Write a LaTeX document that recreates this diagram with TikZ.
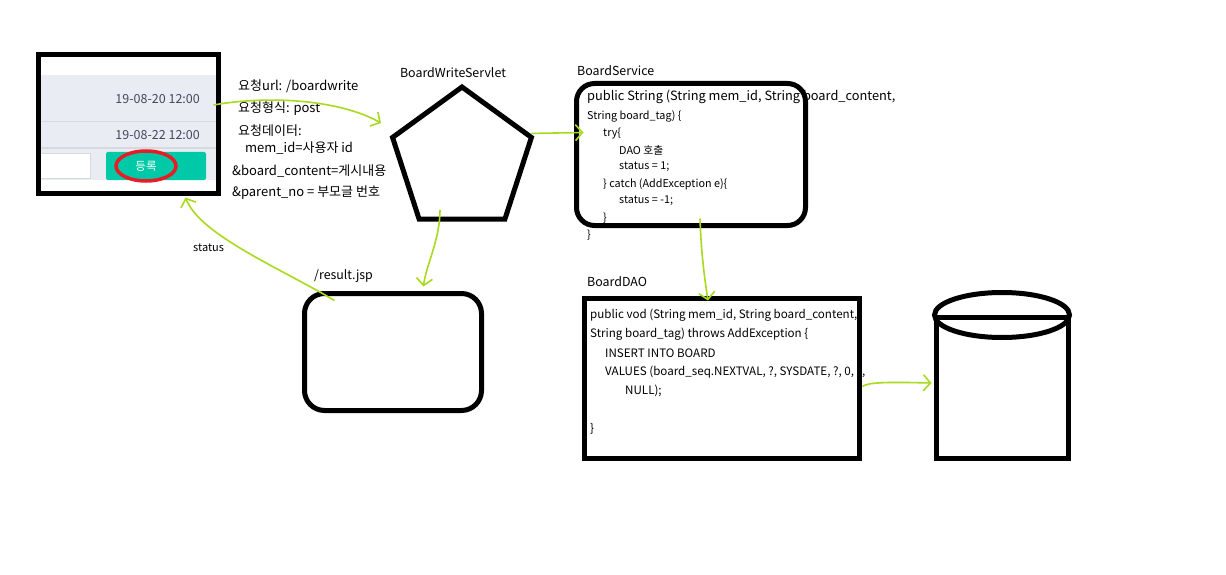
\documentclass[tikz,border=0pt]{standalone}
\usepackage{fontspec}
\setmainfont{Noto Sans CJK KR}
\usetikzlibrary{shapes.geometric,arrows.meta,calc}
\definecolor{hand}{RGB}{168,218,30}
\definecolor{rowgray}{RGB}{233,237,243}
\definecolor{linegray}{RGB}{214,217,222}
\definecolor{teal}{RGB}{0,201,167}
\definecolor{ring}{RGB}{232,28,36}
\definecolor{datecol}{RGB}{70,70,90}
\tikzset{
  thickbox/.style={draw=black,line width=5pt,outer sep=0pt,inner sep=0pt},
  txt/.style={anchor=west,inner sep=0pt,font=\fontsize{12.4}{14}\selectfont},
  reqtxt/.style={anchor=west,inner sep=0pt,font=\fontsize{13}{15}\selectfont},
  codetxt/.style={anchor=west,inner sep=0pt,font=\fontsize{10.8}{12}\selectfont},
  codebig/.style={anchor=west,inner sep=0pt,font=\fontsize{12.8}{14}\selectfont},
  daotxt/.style={anchor=west,inner sep=0pt,font=\fontsize{11.6}{13}\selectfont},
  handarrow/.style={draw=hand,line width=1.6pt,-{Straight Barb[length=7pt,width=16pt,line width=1.6pt]}},
}
\begin{document}
\begin{tikzpicture}[x=1pt,y=-1pt]
\useasboundingbox (0,0) rectangle (1226,575);
\fill[white] (0,0) rectangle (1226,575);

% ---- left UI screenshot ----
\fill[rowgray] (40,75) rectangle (217,180);
\draw[linegray,line width=0.8pt] (40,121) -- (217,121);
\draw[linegray,line width=2.5pt] (40,148) -- (217,148);
\node[draw=linegray,fill=white,line width=0.8pt,minimum width=50,minimum height=25,anchor=north west,inner sep=0pt,outer sep=0pt] (inp) at (40,153) {};
\node[fill=teal,rounded corners=2pt,minimum width=100,minimum height=28,anchor=north west,inner sep=0pt,outer sep=0pt] (btn) at (106,152) {};
\node[text=white,inner sep=0pt,font=\fontsize{11.5}{12}\selectfont] (btntxt) at (146,166) {등록};
\node[text=datecol,anchor=east,inner sep=0pt,font=\fontsize{12.5}{13}\selectfont] (d1) at (200,99) {19-08-20 12:00};
\node[text=datecol,anchor=east,inner sep=0pt,font=\fontsize{12.5}{13}\selectfont] (d2) at (200,135) {19-08-22 12:00};
\draw[ring,line width=3.5pt] (btntxt) ellipse [x radius=30, y radius=15];
\node[thickbox,minimum width=180,minimum height=139,anchor=north west] (ui) at (38.5,54.5) {};

% ---- request text ----
\node[reqtxt] (r1) at (238,86) {요청url: /boardwrite};
\node[reqtxt] (r2) at (238,109) {요청형식: post};
\node[reqtxt] (r3) at (238,131) {요청데이터:};
\node[reqtxt] (r4) at (245,148) {mem\_id=사용자 id};
\node[reqtxt] (r5) at (232,171) {\&board\_content=게시내용};
\node[reqtxt] (r6) at (232,193) {\&parent\_no = 부모글 번호};

% ---- servlet pentagon ----
\node[draw=black,line width=5pt,regular polygon,regular polygon sides=5,minimum size=146,inner sep=0pt,outer sep=0pt] (servlet) at (462,160) {};
\node[txt,anchor=center] (servletlbl) at (453,73) {BoardWriteServlet};

% ---- service box ----
\node[thickbox,rounded corners=18pt,minimum width=229,minimum height=142,anchor=north west] (svc) at (576.5,83.5) {};
\node[txt] (svclbl) at (577,71) {BoardService};
\node[codebig] (s1) at (587,97) {public String (String mem\_id, String board\_content,};
\node[codetxt] (s2) at (587,116) {String board\_tag) \{};
\node[codetxt] (s3) at (603,133) {try\{};
\node[codetxt] (s4) at (619,150) {DAO 호출};
\node[codetxt] (s5) at (619,167) {status = 1;};
\node[codetxt] (s6) at (603,184) {\} catch (AddException e)\{};
\node[codetxt] (s7) at (619,201) {status = -1;};
\node[codetxt] (s8) at (603,218) {\}};
\node[codetxt] (s9) at (587,235) {\}};

% ---- DAO box ----
\node[thickbox,minimum width=275,minimum height=160,anchor=north west] (dao) at (584.5,298.5) {};
\node[txt] (daolbl) at (587,282) {BoardDAO};
\node[daotxt] (t1) at (590,315) {public vod (String mem\_id, String board\_content,};
\node[daotxt] (t2) at (590,334) {String board\_tag) throws AddException \{};
\node[daotxt] (t3) at (605,353) {INSERT INTO BOARD};
\node[daotxt] (t4) at (605,372) {VALUES (board\_seq.NEXTVAL, ?, SYSDATE, ?, 0, ?,};
\node[daotxt] (t5) at (625,391) {NULL);};
\node[daotxt] (t6) at (590,429) {\}};

% ---- database cylinder ----
\node[minimum width=135,minimum height=170,inner sep=0pt,outer sep=0pt] (db) at (1002,375) {};
\draw[black,line width=5pt] (1002,315) ellipse [x radius=67.5, y radius=22.5];
\draw[black,line width=5pt] (934,317) -- (1070,317);
\draw[black,line width=5pt,line join=miter] (936.5,317) -- (936.5,458.5) -- (1068.5,458.5) -- (1068.5,317);

% ---- result box ----
\node[thickbox,rounded corners=20pt,minimum width=177,minimum height=117,anchor=north west] (res) at (304.5,293.5) {};
\node[txt] (reslbl) at (314,276) {/result.jsp};

% ---- hand-drawn connectors ----
\draw[handarrow] ($(ui.east)+(-5,-19)$) .. controls (270,95) and (340,100) .. ($(servlet.center)+(-81,-37)$);

\draw[handarrow] ($(servlet.corner 5)+(0,-4)$) -- ($(svc.west)+(7,-22)$);

\draw[handarrow] ($(svc.south)+(9,-7)$) .. controls (701,250) and (704,275) .. ($(dao.north)+(-14,2)$);

\draw[handarrow] ($(servlet.center)+(-22,50)$) .. controls (440,240) and (426,265) .. ($(res.north west)+(119,-7)$);

\draw[handarrow] ($(dao.east)+(3,8)$) .. controls (868,382) and (890,382) .. ($(db.west)+(-3,8)$);

\draw[handarrow] ($(res.north west)+(30,7)$) .. controls (280,268) and (200,235) .. ($(ui.south east)+(-33,4)$);
\node[anchor=west,inner sep=0pt,font=\fontsize{11}{12}\selectfont] (statuslbl) at (193,248) {status};
\end{tikzpicture}
\end{document}
